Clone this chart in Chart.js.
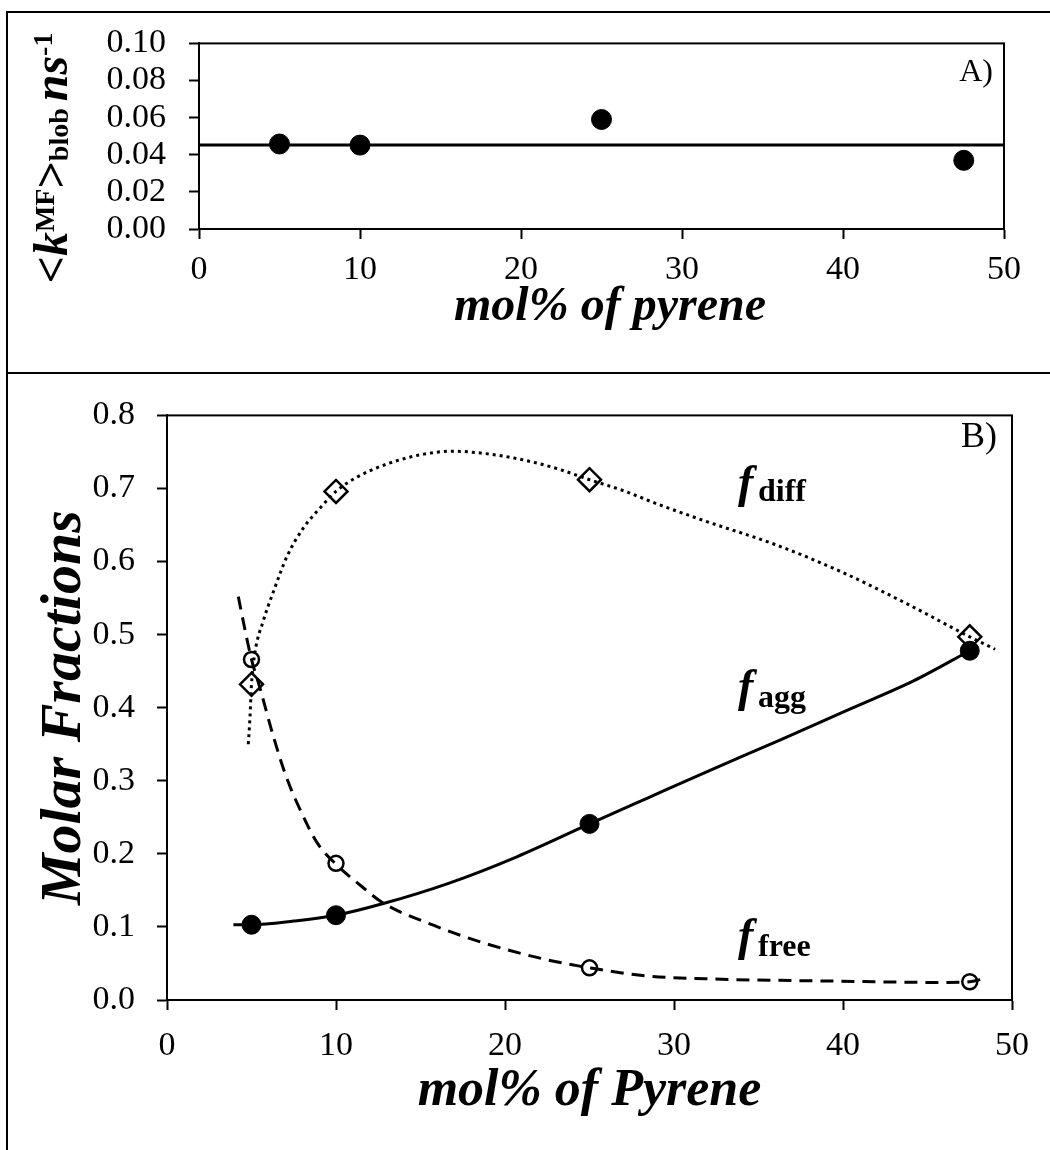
<!DOCTYPE html>
<html lang="en">
<head>
    <meta charset="UTF-8">
    <title>Blob rate constant and molar fractions vs mol% pyrene</title>
    <script src="https://cdn.jsdelivr.net/npm/chart.js@4.4.0/dist/chart.umd.min.js"></script>
    <style>
        html, body { margin: 0; padding: 0; background: #fff; }
        #page { position: relative; width: 1050px; height: 1150px; overflow: hidden; }
        #boxA { position: absolute; left: 0; top: 0; width: 1050px; height: 373px; }
        #boxB { position: absolute; left: 0; top: 373px; width: 1050px; height: 777px; }
        .rule { position: absolute; background: #000; z-index: 5; }
    </style>
</head>
<body>
<div id="page">
    <div id="boxA"><canvas id="chartA"></canvas></div>
    <div id="boxB"><canvas id="chartB"></canvas></div>
    <!-- outer frame of the figure -->
    <div class="rule" style="left:6px; top:11px; width:2px; height:1139px;"></div>
    <div class="rule" style="left:6px; top:11px; width:1044px; height:2px;"></div>
    <div class="rule" style="left:6px; top:372px; width:1044px; height:2px;"></div>
</div>

<script>
    // ---- panel A: <k_MF>blob ----
    var molA = [5, 10, 25, 47.5];
    var kBlob = [0.0458, 0.0452, 0.059, 0.037];
    var kMeanX = [0, 50];
    var kMeanY = [0.0453, 0.0453];
    var xTicksA = [0, 10, 20, 30, 40, 50];
    var yTicksA = [0, 0.02, 0.04, 0.06, 0.08, 0.10];

    // ---- panel B: molar fractions ----
    var molB = [5, 10, 25, 47.5];
    var fDiff = [0.432, 0.696, 0.712, 0.497];
    var fAgg = [0.103, 0.116, 0.241, 0.478];
    var fFree = [0.466, 0.187, 0.044, 0.025];

    // trend curves
    var diffCurveX = [4.81, 4.91, 5.0, 5.2, 5.7, 6.3, 7.1, 8.1, 9.05, 10, 11.2, 13.2, 15.2, 16.9, 19.1, 21.1, 23.1, 25, 27, 29.1, 31.9, 35.9, 39.8, 43.8, 47.5, 49];
    var diffCurveY = [0.350, 0.387, 0.432, 0.475, 0.519, 0.559, 0.607, 0.647, 0.673, 0.696, 0.715, 0.735, 0.747, 0.751, 0.747, 0.739, 0.727, 0.712, 0.697, 0.678, 0.655, 0.624, 0.587, 0.542, 0.497, 0.480];
    var freeCurveX = [4.22, 4.62, 5.0, 5.5, 6.29, 7.08, 8.07, 8.86, 9.94, 11.6, 12.7, 15.8, 18.9, 22.5, 25, 28.3, 31.9, 39.0, 46.2, 47.5, 48.5];
    var freeCurveY = [0.552, 0.506, 0.466, 0.427, 0.361, 0.304, 0.251, 0.216, 0.187, 0.154, 0.134, 0.102, 0.077, 0.055, 0.044, 0.033, 0.029, 0.026, 0.024, 0.025, 0.030];
    var aggCurveX = [3.93, 5, 7.5, 10, 12.8, 16.7, 20.7, 25, 28.4, 32.3, 36.3, 40.2, 44.2, 47.5];
    var aggCurveY = [0.103, 0.103, 0.108, 0.116, 0.132, 0.160, 0.196, 0.241, 0.276, 0.316, 0.356, 0.396, 0.437, 0.478];

    var xTicksB = [0, 10, 20, 30, 40, 50];
    var yTicksB = [0, 0.1, 0.2, 0.3, 0.4, 0.5, 0.6, 0.7, 0.8];

    var FONT = "'Liberation Serif', 'Times New Roman', Times, serif";
    var TICK_SIZE = 34;

    function toXY(xs, ys) {
        return xs.map(function (x, i) { return { x: x, y: ys[i] }; });
    }

    function axis(ticksList, opts) {
        return Object.assign({
            type: 'linear',
            min: ticksList[0],
            max: ticksList[ticksList.length - 1],
            afterBuildTicks: function (s) { s.ticks = ticksList.map(function (v) { return { value: v }; }); },
            grid: { drawOnChartArea: false, drawTicks: true, tickLength: 10, tickWidth: 2, color: '#000', tickColor: '#000' },
            border: { display: true, color: '#000', width: 2 }
        }, opts);
    }

    // box around plot area (top and right sides)
    var plotBox = {
        id: 'plotBox',
        afterDraw: function (chart) {
            var a = chart.chartArea, ctx = chart.ctx;
            ctx.save();
            ctx.strokeStyle = '#000';
            ctx.lineWidth = 2;
            ctx.strokeRect(a.left, a.top, a.right - a.left, a.bottom - a.top);
            ctx.restore();
        }
    };

    // draw a run of text pieces with different fonts
    function drawRuns(ctx, x, y, runs) {
        var cx = x;
        runs.forEach(function (r) {
            ctx.font = r.font;
            ctx.fillText(r.t, cx, y + (r.dy || 0));
            cx += ctx.measureText(r.t).width;
        });
    }
    function runsWidth(ctx, runs) {
        var w = 0;
        runs.forEach(function (r) { ctx.font = r.font; w += ctx.measureText(r.t).width; });
        return w;
    }

    var titlesA = {
        id: 'titlesA',
        afterDraw: function (chart) {
            var ctx = chart.ctx;
            ctx.save();
            ctx.fillStyle = '#000';
            ctx.textBaseline = 'alphabetic';

            ctx.textAlign = 'center';
            ctx.font = 'bold italic 48px ' + FONT;
            ctx.fillText('mol% of pyrene', 610, 320);

            ctx.textAlign = 'right';
            ctx.font = '32px ' + FONT;
            ctx.fillText('A)', 993, 81);

            // y title: <k^MF>blob ns^-1
            ctx.textAlign = 'left';
            var big = 48, small = 28;
            var runs = [
                { t: '<', font: 'bold ' + big + 'px ' + FONT },
                { t: 'k', font: 'bold italic ' + big + 'px ' + FONT },
                { t: 'MF', font: 'bold ' + small + 'px ' + FONT, dy: -13 },
                { t: '>', font: 'bold ' + big + 'px ' + FONT },
                { t: 'blob ', font: 'bold ' + small + 'px ' + FONT, dy: 1 },
                { t: 'ns', font: 'bold italic ' + big + 'px ' + FONT },
                { t: '-1', font: 'bold ' + small + 'px ' + FONT, dy: -15 }
            ];
            var w = runsWidth(ctx, runs);
            ctx.translate(67, 158);
            ctx.rotate(-Math.PI / 2);
            drawRuns(ctx, -w / 2, 0, runs);
            ctx.restore();
        }
    };

    var titlesB = {
        id: 'titlesB',
        afterDraw: function (chart) {
            var ctx = chart.ctx, a = chart.chartArea;
            ctx.save();
            ctx.fillStyle = '#000';
            ctx.textBaseline = 'alphabetic';

            ctx.textAlign = 'center';
            ctx.font = 'bold italic 52px ' + FONT;
            ctx.fillText('mol% of Pyrene', (a.left + a.right) / 2, 732);

            ctx.textAlign = 'right';
            ctx.font = '36px ' + FONT;
            ctx.fillText('B)', 997, 74);

            // series labels f_diff, f_agg, f_free
            ctx.textAlign = 'left';
            var fFont = 'bold italic 46px ' + FONT, subFont = 'bold 32px ' + FONT;
            [['diff', 124, 128], ['agg', 328, 334], ['free', 577, 583]].forEach(function (l) {
                ctx.font = fFont;
                ctx.fillText('f', 738, l[1]);
                ctx.font = subFont;
                ctx.fillText(l[0], 758, l[2]);
            });

            ctx.save();
            ctx.translate(80, (a.top + a.bottom) / 2);
            ctx.rotate(-Math.PI / 2);
            ctx.textAlign = 'center';
            ctx.font = 'bold italic 58px ' + FONT;
            ctx.fillText('Molar Fractions', 0, 0);
            ctx.restore();
            ctx.restore();
        }
    };

    var chartA = new Chart(document.getElementById('chartA'), {
        type: 'scatter',
        data: {
            datasets: [
                {
                    label: 'k blob',
                    data: toXY(molA, kBlob),
                    pointStyle: 'circle',
                    pointRadius: 10,
                    pointBackgroundColor: '#000',
                    pointBorderColor: '#000',
                    showLine: false
                },
                {
                    label: 'mean',
                    data: toXY(kMeanX, kMeanY),
                    showLine: true,
                    borderColor: '#000',
                    borderWidth: 3,
                    pointRadius: 0
                }
            ]
        },
        options: {
            animation: false,
            responsive: true,
            maintainAspectRatio: false,
            layout: { padding: { top: 32, right: 46, left: 0, bottom: 0 } },
            plugins: { legend: { display: false }, tooltip: { enabled: false } },
            scales: {
                x: axis(xTicksA, {
                    position: 'bottom',
                    afterFit: function (s) { s.height = 144; },
                    ticks: { color: '#000', font: { family: FONT, size: TICK_SIZE }, padding: 11, maxRotation: 0, autoSkip: false }
                }),
                y: axis(yTicksA, {
                    position: 'left',
                    afterFit: function (s) { s.width = 199; },
                    ticks: {
                        color: '#000', font: { family: FONT, size: TICK_SIZE }, padding: 23, autoSkip: false,
                        callback: function (v) { return v.toFixed(2); }
                    }
                })
            }
        },
        plugins: [plotBox, titlesA]
    });

    var chartB = new Chart(document.getElementById('chartB'), {
        type: 'scatter',
        data: {
            datasets: [
                {
                    label: 'f agg points',
                    data: toXY(molB, fAgg),
                    pointStyle: 'circle',
                    pointRadius: 9.5,
                    pointBackgroundColor: '#000',
                    pointBorderColor: '#000',
                    showLine: false
                },
                {
                    label: 'f free points',
                    data: toXY(molB, fFree),
                    pointStyle: 'circle',
                    pointRadius: 7.5,
                    pointBorderWidth: 2.5,
                    pointBackgroundColor: 'rgba(0,0,0,0)',
                    pointBorderColor: '#000',
                    showLine: false
                },
                {
                    label: 'f diff points',
                    data: toXY(molB, fDiff),
                    pointStyle: 'rectRot',
                    pointRadius: 11.5,
                    pointBorderWidth: 2.5,
                    pointBackgroundColor: 'rgba(0,0,0,0)',
                    pointBorderColor: '#000',
                    showLine: false
                },
                {
                    label: 'f agg trend',
                    data: toXY(aggCurveX, aggCurveY),
                    showLine: true,
                    borderColor: '#000',
                    borderWidth: 3,
                    pointRadius: 0,
                    cubicInterpolationMode: 'monotone'
                },
                {
                    label: 'f free trend',
                    data: toXY(freeCurveX, freeCurveY),
                    showLine: true,
                    borderColor: '#000',
                    borderWidth: 3,
                    borderDash: [13, 8],
                    pointRadius: 0,
                    cubicInterpolationMode: 'monotone'
                },
                {
                    label: 'f diff trend',
                    data: toXY(diffCurveX, diffCurveY),
                    showLine: true,
                    borderColor: '#000',
                    borderWidth: 3,
                    borderDash: [3, 4],
                    pointRadius: 0,
                    cubicInterpolationMode: 'monotone'
                }
            ]
        },
        options: {
            animation: false,
            responsive: true,
            maintainAspectRatio: false,
            layout: { padding: { top: 21, right: 38, left: 0, bottom: 0 } },
            plugins: { legend: { display: false }, tooltip: { enabled: false } },
            scales: {
                x: axis(xTicksB, {
                    position: 'bottom',
                    afterFit: function (s) { s.height = 150; },
                    ticks: { color: '#000', font: { family: FONT, size: TICK_SIZE }, padding: 16, maxRotation: 0, autoSkip: false }
                }),
                y: axis(yTicksB, {
                    position: 'left',
                    afterFit: function (s) { s.width = 167; },
                    ticks: {
                        color: '#000', font: { family: FONT, size: TICK_SIZE }, padding: 22, autoSkip: false,
                        callback: function (v) { return v.toFixed(1); }
                    }
                })
            }
        },
        plugins: [plotBox, titlesB]
    });
</script>
</body>
</html>
